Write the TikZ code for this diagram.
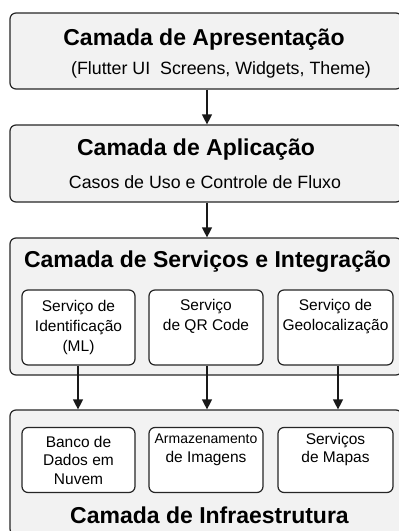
\documentclass[tikz,border=0pt]{standalone}
\usepackage{fontspec}
\setmainfont{Liberation Sans}
\usepackage{tikz}
\usetikzlibrary{arrows.meta}

\tikzset{
  layer/.style={draw=black!85, line width=1.2pt, rounded corners=6pt, fill=black!5, inner sep=0pt},
  svc/.style={draw=black!85, line width=1.2pt, rounded corners=6pt, fill=white, inner sep=0pt, align=center, font=\fontsize{15.5}{20}\selectfont},
  ttl/.style={font=\fontsize{23}{26}\selectfont\bfseries},
  sub/.style={font=\fontsize{17.8}{20}\selectfont},
  flow/.style={-{Triangle[length=10pt,width=10pt]}, line width=1.2pt, draw=black!90}
}

\begin{document}
\begin{tikzpicture}[x=1pt,y=1pt,yscale=-1]
\useasboundingbox (0,0) rectangle (399,531);

%Layer: Apresentacao
\node [layer, minimum width=392pt, minimum height=76pt] (apres) at (206,51) {};
\node [ttl] (apresT) at (204,40) {Camada de Apresentação};
\node [sub] (apresS) at (221,70) {(Flutter UI\ \ Screens, Widgets, Theme)};

%Layer: Aplicacao
\node [layer, minimum width=392pt, minimum height=77pt] (aplic) at (206,163.5) {};
\node [ttl] (aplicT) at (196,150) {Camada de Aplicação};
\node [sub] (aplicS) at (205,182) {Casos de Uso e Controle de Fluxo};

%Layer: Servicos
\node [layer, minimum width=392pt, minimum height=137pt] (serv) at (206,306.5) {};
\node [ttl] (servT) at (207.5,262) {Camada de Serviços e Integração};
\node [svc, minimum width=113pt, minimum height=75pt] (ident) at (78.5,327.5) {Serviço de\\Identificação\\(ML)};
\node [svc, minimum width=114pt, minimum height=75pt] (qr) at (206,327.5) {Serviço\\de QR Code\\\strut};
\node [svc, minimum width=115pt, minimum height=75pt] (geo) at (335.5,327.5) {Serviço de\\Geolocalização\\\strut};

%Layer: Infraestrutura
\node [layer, minimum width=392pt, minimum height=125pt] (infra) at (206,472.5) {};
\node [ttl] (infraT) at (209.5,515) {Camada de Infraestrutura};
\node [svc, minimum width=113pt, minimum height=65pt, font=\fontsize{15.5}{18.5}\selectfont] (banco) at (78.5,460) {Banco de\\Dados em\\Nuvem};
\node [svc, minimum width=114pt, minimum height=65pt, font=\fontsize{15.5}{18.5}\selectfont] (armaz) at (206,460) {{\fontsize{14}{18.5}\selectfont Armazenamento}\\de Imagens\\\strut};
\node [svc, minimum width=115pt, minimum height=65pt, font=\fontsize{15.5}{18.5}\selectfont] (mapas) at (335.5,460) {Serviços\\de Mapas\\\strut};

%Arrows
\draw [flow] (apres.south -| 207,0) -- (aplic.north -| 207,0);
\draw [flow] (aplic.south -| 207,0) -- (serv.north -| 207,0);
\draw [flow] (ident.south -| 78,0) -- (infra.north -| 78,0);
\draw [flow] (qr.south -| 207,0) -- (infra.north -| 207,0);
\draw [flow] (geo.south -| 338,0) -- (infra.north -| 338,0);

\end{tikzpicture}
\end{document}
